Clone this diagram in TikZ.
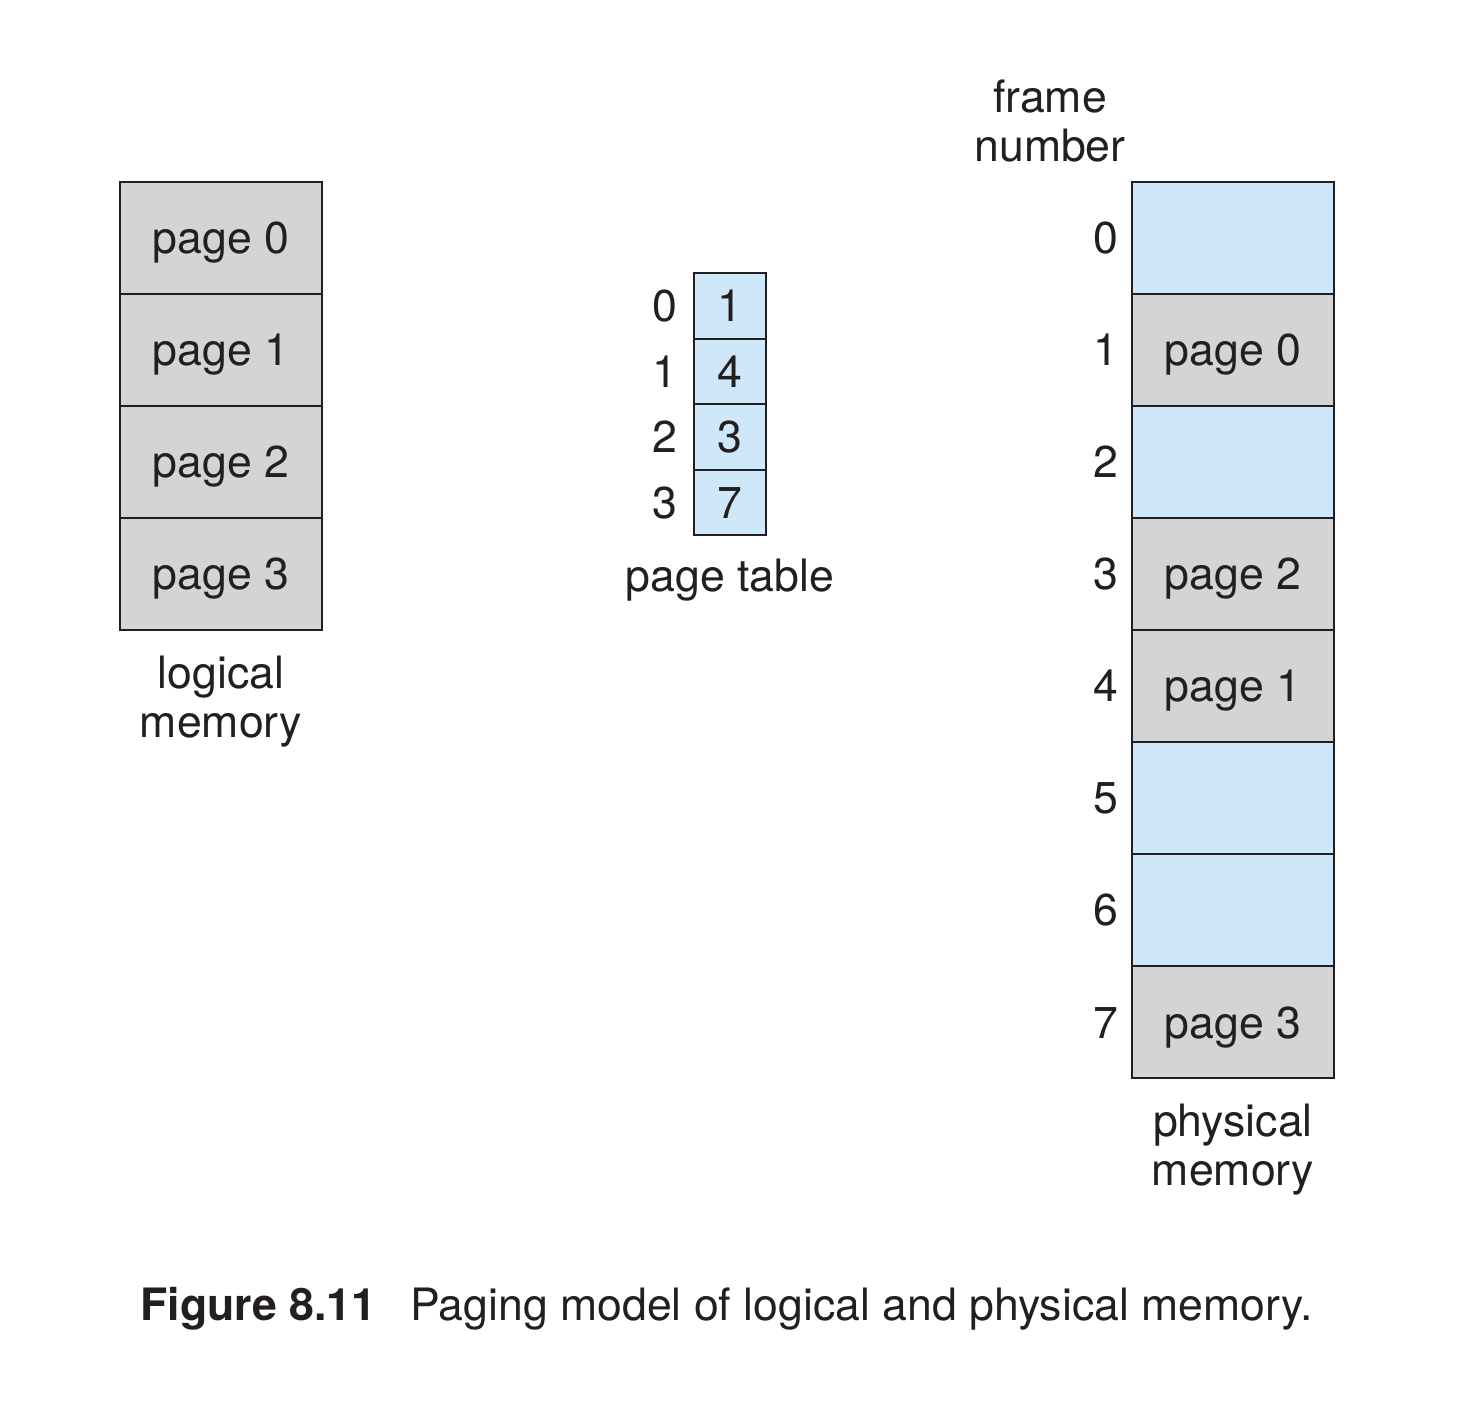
\documentclass[tikz,border=0pt]{standalone}
\usepackage{fontspec}
\setmainfont{TeX Gyre Heros}
\definecolor{bluec}{RGB}{207,232,249}
\definecolor{grayc}{RGB}{211,212,214}
\definecolor{linec}{RGB}{35,31,32}
\begin{document}
\begin{tikzpicture}[x=0.5pt,y=-0.5pt,
  every node/.style={font=\fontsize{22.3pt}{24.5pt}\selectfont, text=linec},
  cell/.style={draw=linec, line width=1pt, minimum width=101pt, minimum height=56pt, inner sep=0pt, text height=16pt, text depth=0pt},
  ptcell/.style={draw=linec, line width=1pt, minimum width=36pt, minimum height=32.75pt, inner sep=0pt, text height=16pt, text depth=0pt, fill=bluec},
  used/.style={cell, fill=grayc},
  free/.style={cell, fill=bluec},
  idx/.style={inner sep=0pt, text height=16pt, text depth=0pt},
  lbl/.style={align=center, inner sep=0pt}]
\useasboundingbox[fill=white] (0,0) rectangle (1458,1422);
% logical memory
\node[used] (l0) at (221,238) {page 0};
\node[used] (l1) at (221,350) {page 1};
\node[used] (l2) at (221,462) {page 2};
\node[used] (l3) at (221,574) {page 3};
\node[lbl] (llab) at (221,702) {logical\\memory};
% page table
\node[ptcell] (t0) at (730,306) {1};
\node[ptcell] (t1) at (730,371.5) {4};
\node[ptcell] (t2) at (730,437) {3};
\node[ptcell] (t3) at (730,502.5) {7};
\node[idx] (ti0) at (665,306) {0};
\node[idx] (ti1) at (665,371.5) {1};
\node[idx] (ti2) at (665,437) {2};
\node[idx] (ti3) at (665,502.5) {3};
\node[lbl] (tlab) at (730,580) {page table};
% physical memory
\node[free] (p0) at (1233,238) {};
\node[used] (p1) at (1233,350) {page 0};
\node[free] (p2) at (1233,462) {};
\node[used] (p3) at (1233,574) {page 2};
\node[used] (p4) at (1233,686) {page 1};
\node[free] (p5) at (1233,798) {};
\node[free] (p6) at (1233,910) {};
\node[used] (p7) at (1233,1022) {page 3};
\foreach \i in {0,...,7} {
  \node[idx] (f\i) at (1106,238+112*\i) {\i};
}
\node[lbl] (flab) at (1050,121) {frame\\number};
\node[lbl] (plab) at (1233,1150) {physical\\memory};
% caption
\node[anchor=base west, inner sep=0pt] (capnum) at (140,1320) {\bfseries Figure 8.11};
\node[anchor=base west, inner sep=0pt] (captxt) at (410,1320) {Paging model of logical and physical memory.};
\end{tikzpicture}
\end{document}
